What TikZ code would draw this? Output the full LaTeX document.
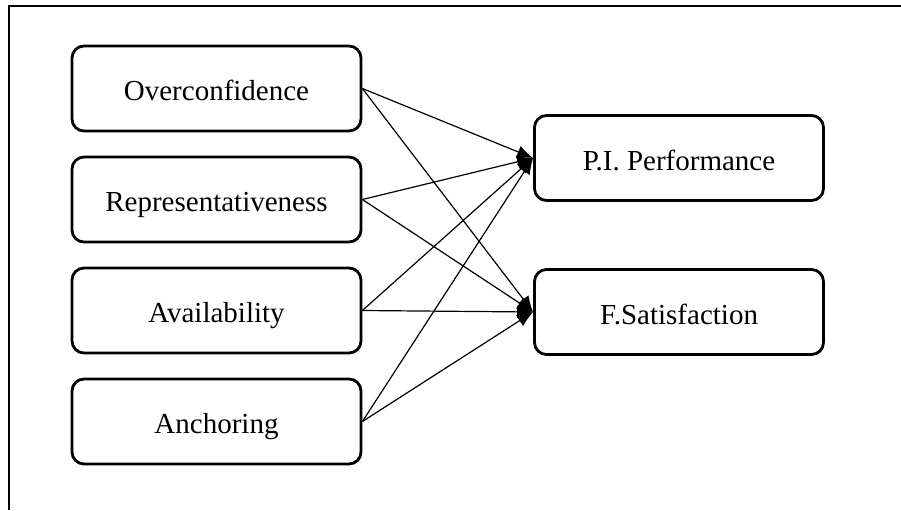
\documentclass[tikz,border=0pt]{standalone}
\usepackage{fontspec}
\setmainfont{Liberation Serif}
\usetikzlibrary{arrows,calc,arrows.meta,positioning}

\begin{document}
\begin{tikzpicture}[>={Latex[length=8pt,width=6.5pt]}, x=0.5pt, y=-0.5pt]
        \fontsize{14.5}{17}\selectfont
        \newcommand{\vdist}{111}
        \tikzset{factor/.style={draw, line width=1.4pt, rounded corners=6pt,
                minimum width=144.5pt, minimum height=42.5pt, inner sep=0pt,
                text height=12pt, text depth=0pt},
            link/.style={->, line width=0.6pt}}
        \useasboundingbox (0,0) rectangle (901,510);
        \draw[line width=1pt] (9,510) -- (9,6) -- (901,6);

        \node[factor] (Ov) at (216.5, 88.5) {Overconfidence};
        \node[factor] (Re) at ($(Ov) + (0, \vdist)$) {Representativeness};
        \node[factor] (Av) at ($(Re) + (0, \vdist)$) {Availability};
        \node[factor] (An) at ($(Av) + (0, \vdist)$) {Anchoring};

        \node[factor] (PI) at (679, 158) {P.I. Performance};
        \node[factor] (FS) at ($(PI) + (0, 154)$) {F.Satisfaction};

        \draw[link] (Ov.east) -- (PI.west);
        \draw[link] (Ov.east) -- (FS.west);
        \draw[link] (Re.east) -- (PI.west);
        \draw[link] (Re.east) -- (FS.west);
        \draw[link] (Av.east) -- (PI.west);
        \draw[link] (Av.east) -- (FS.west);
        \draw[link] (An.east) -- (PI.west);
        \draw[link] (An.east) -- (FS.west);
    \end{tikzpicture}
\end{document}
